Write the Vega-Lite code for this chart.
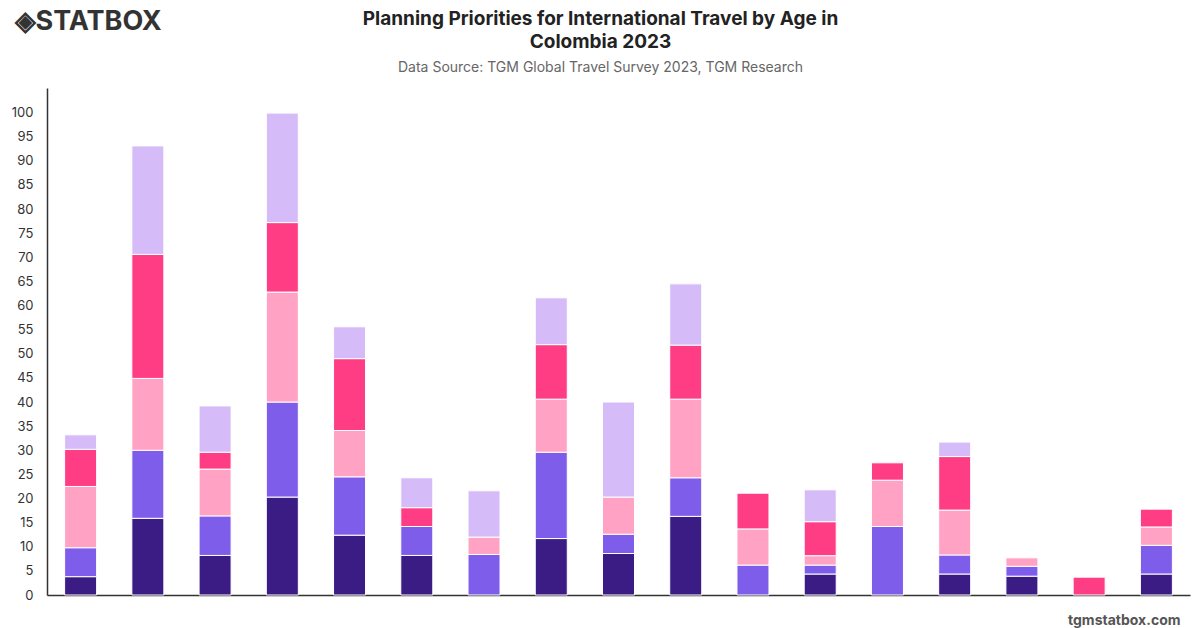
{
  "$schema": "https://vega.github.io/schema/vega-lite/v6.json",
  "autosize": {"type": "none"},
  "width": 1143,
  "height": 507,
  "padding": {"left": 47, "top": 88, "right": 10, "bottom": 33},
  "background": "white",
  "config": {
    "font": "Inter",
    "view": {"stroke": null}
  },
  "title": {
    "text": ["Planning Priorities for International Travel by Age in", "Colombia 2023"],
    "subtitle": "Data Source: TGM Global Travel Survey 2023, TGM Research",
    "anchor": "middle",
    "frame": "group",
    "dx": -18,
    "dy": 80,
    "offset": 12,
    "fontSize": 19,
    "fontWeight": "bold",
    "lineHeight": 23,
    "color": "#222222",
    "subtitleFontSize": 14,
    "subtitleColor": "#666666",
    "subtitlePadding": 9
  },
  "data": {
    "values": [
      {"c": "Cost", "g": "18-24", "k": 1, "v": 3.8},
      {"c": "Cost", "g": "25-34", "k": 2, "v": 6.0},
      {"c": "Cost", "g": "35-44", "k": 3, "v": 12.7},
      {"c": "Cost", "g": "45-54", "k": 4, "v": 7.7},
      {"c": "Cost", "g": "55+", "k": 5, "v": 3.0},
      {"c": "Safety", "g": "18-24", "k": 1, "v": 15.9},
      {"c": "Safety", "g": "25-34", "k": 2, "v": 14.1},
      {"c": "Safety", "g": "35-44", "k": 3, "v": 14.9},
      {"c": "Safety", "g": "45-54", "k": 4, "v": 25.7},
      {"c": "Safety", "g": "55+", "k": 5, "v": 22.5},
      {"c": "Weather", "g": "18-24", "k": 1, "v": 8.2},
      {"c": "Weather", "g": "25-34", "k": 2, "v": 8.2},
      {"c": "Weather", "g": "35-44", "k": 3, "v": 9.7},
      {"c": "Weather", "g": "45-54", "k": 4, "v": 3.5},
      {"c": "Weather", "g": "55+", "k": 5, "v": 9.6},
      {"c": "Culture", "g": "18-24", "k": 1, "v": 20.3},
      {"c": "Culture", "g": "25-34", "k": 2, "v": 19.7},
      {"c": "Culture", "g": "35-44", "k": 3, "v": 22.8},
      {"c": "Culture", "g": "45-54", "k": 4, "v": 14.4},
      {"c": "Culture", "g": "55+", "k": 5, "v": 22.7},
      {"c": "Food", "g": "18-24", "k": 1, "v": 12.4},
      {"c": "Food", "g": "25-34", "k": 2, "v": 12.1},
      {"c": "Food", "g": "35-44", "k": 3, "v": 9.6},
      {"c": "Food", "g": "45-54", "k": 4, "v": 14.9},
      {"c": "Food", "g": "55+", "k": 5, "v": 6.6},
      {"c": "Shopping", "g": "18-24", "k": 1, "v": 8.2},
      {"c": "Shopping", "g": "25-34", "k": 2, "v": 6.0},
      {"c": "Shopping", "g": "45-54", "k": 4, "v": 3.9},
      {"c": "Shopping", "g": "55+", "k": 5, "v": 6.2},
      {"c": "Nightlife", "g": "25-34", "k": 2, "v": 8.4},
      {"c": "Nightlife", "g": "35-44", "k": 3, "v": 3.6},
      {"c": "Nightlife", "g": "55+", "k": 5, "v": 9.6},
      {"c": "Nature", "g": "18-24", "k": 1, "v": 11.7},
      {"c": "Nature", "g": "25-34", "k": 2, "v": 17.9},
      {"c": "Nature", "g": "35-44", "k": 3, "v": 11.0},
      {"c": "Nature", "g": "45-54", "k": 4, "v": 11.3},
      {"c": "Nature", "g": "55+", "k": 5, "v": 9.7},
      {"c": "Adventure", "g": "18-24", "k": 1, "v": 8.6},
      {"c": "Adventure", "g": "25-34", "k": 2, "v": 4.0},
      {"c": "Adventure", "g": "35-44", "k": 3, "v": 7.7},
      {"c": "Adventure", "g": "55+", "k": 5, "v": 19.7},
      {"c": "Relaxation", "g": "18-24", "k": 1, "v": 16.3},
      {"c": "Relaxation", "g": "25-34", "k": 2, "v": 8.0},
      {"c": "Relaxation", "g": "35-44", "k": 3, "v": 16.3},
      {"c": "Relaxation", "g": "45-54", "k": 4, "v": 11.2},
      {"c": "Relaxation", "g": "55+", "k": 5, "v": 12.7},
      {"c": "Family", "g": "25-34", "k": 2, "v": 6.2},
      {"c": "Family", "g": "35-44", "k": 3, "v": 7.5},
      {"c": "Family", "g": "45-54", "k": 4, "v": 7.4},
      {"c": "Visa", "g": "18-24", "k": 1, "v": 4.35},
      {"c": "Visa", "g": "25-34", "k": 2, "v": 1.85},
      {"c": "Visa", "g": "35-44", "k": 3, "v": 1.95},
      {"c": "Visa", "g": "45-54", "k": 4, "v": 7.05},
      {"c": "Visa", "g": "55+", "k": 5, "v": 6.6},
      {"c": "Flights", "g": "25-34", "k": 2, "v": 14.2},
      {"c": "Flights", "g": "35-44", "k": 3, "v": 9.6},
      {"c": "Flights", "g": "45-54", "k": 4, "v": 3.6},
      {"c": "Accommodation", "g": "18-24", "k": 1, "v": 4.35},
      {"c": "Accommodation", "g": "25-34", "k": 2, "v": 3.95},
      {"c": "Accommodation", "g": "35-44", "k": 3, "v": 9.3},
      {"c": "Accommodation", "g": "45-54", "k": 4, "v": 11.1},
      {"c": "Accommodation", "g": "55+", "k": 5, "v": 3.0},
      {"c": "Events", "g": "18-24", "k": 1, "v": 3.9},
      {"c": "Events", "g": "25-34", "k": 2, "v": 2.05},
      {"c": "Events", "g": "35-44", "k": 3, "v": 1.75},
      {"c": "Health", "g": "45-54", "k": 4, "v": 3.7},
      {"c": "Other", "g": "18-24", "k": 1, "v": 4.35},
      {"c": "Other", "g": "25-34", "k": 2, "v": 5.95},
      {"c": "Other", "g": "35-44", "k": 3, "v": 3.8},
      {"c": "Other", "g": "45-54", "k": 4, "v": 3.7}
    ]
  },
  "mark": {"type": "bar", "stroke": "white", "strokeWidth": 1},
  "encoding": {
    "x": {
      "field": "c",
      "type": "nominal",
      "sort": null,
      "scale": {"paddingInner": 0.524, "paddingOuter": 0.262},
      "axis": {
        "labels": false,
        "ticks": false,
        "domainColor": "#333333",
        "domainWidth": 1.5,
        "title": "tgmstatbox.com",
        "titleFontSize": 14,
        "titleFontWeight": "bold",
        "titleColor": "#555555",
        "titleAlign": "right",
        "titleAnchor": "end",
        "titleBaseline": "alphabetic",
        "titleX": 1133,
        "titleY": 29
      }
    },
    "y": {
      "field": "v",
      "type": "quantitative",
      "aggregate": "sum",
      "stack": "zero",
      "scale": {"domain": [0, 105.1], "nice": false, "zero": true},
      "axis": {
        "values": [0, 5, 10, 15, 20, 25, 30, 35, 40, 45, 50, 55, 60, 65, 70, 75, 80, 85, 90, 95, 100],
        "grid": false,
        "ticks": false,
        "labelPadding": 14,
        "labelFontSize": 13,
        "labelColor": "#333333",
        "domainColor": "#333333",
        "domainWidth": 1.5,
        "title": "◈STATBOX",
        "titleAngle": 0,
        "titleAlign": "left",
        "titleBaseline": "top",
        "titleX": -33,
        "titleY": -80,
        "titleFontSize": 27,
        "titleFontWeight": "bold",
        "titleColor": "#333333"
      }
    },
    "color": {
      "field": "g",
      "type": "nominal",
      "sort": ["18-24", "25-34", "35-44", "45-54", "55+"],
      "scale": {
        "domain": ["18-24", "25-34", "35-44", "45-54", "55+"],
        "range": ["#3A1C84", "#7F5DEB", "#FFA2C3", "#FF3D84", "#D5BCF8"]
      },
      "legend": null
    },
    "order": {"field": "k", "type": "quantitative", "sort": "ascending"}
  }
}
